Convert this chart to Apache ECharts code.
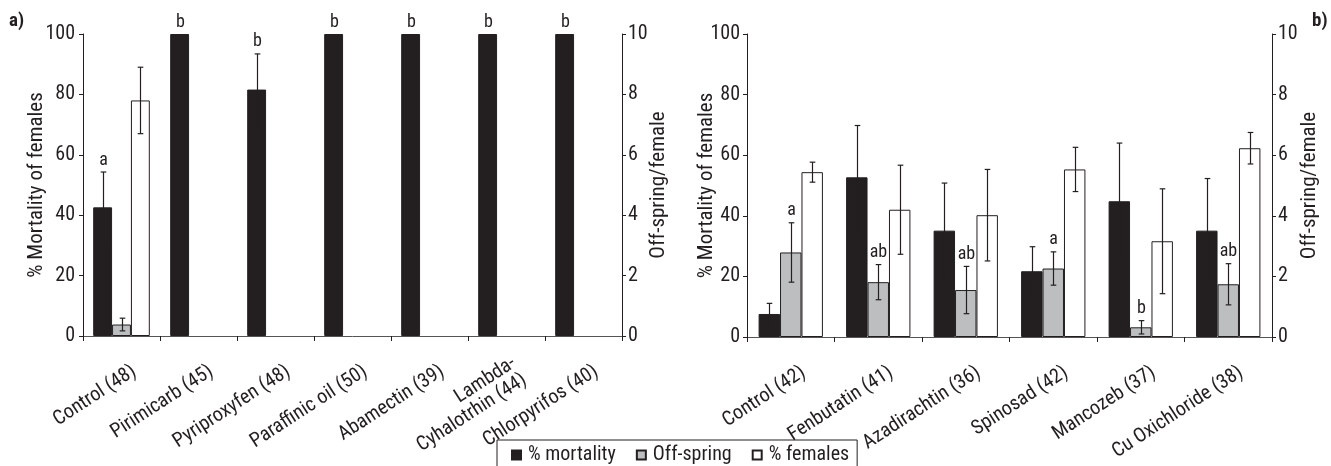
<!DOCTYPE html>
<html>
<head>
<meta charset="utf-8">
<script src="https://cdn.jsdelivr.net/npm/echarts@6/dist/echarts.min.js"></script>
<style>
html,body{margin:0;padding:0;background:#fff;}
#chart{width:1331px;height:466px;}
</style>
</head>
<body>
<div id="chart"></div>
<script>
// ---- Panel a) ----
const categoriesA = ['Control (48)', 'Pirimicarb (45)', 'Pyriproxyfen (48)', 'Paraffinic oil (50)', 'Abamectin (39)', 'Lambda-\nCyhalotrhin (44)', 'Chlorpyrifos (40)'];
const mortalityA = [42.6, 100, 81.6, 100, 100, 100, 100];
const mortalityErrA = [11.7, 0, 11.8, 0, 0, 0, 0];
const mortalityLettersA = ['a', 'b', 'b', 'b', 'b', 'b', 'b'];
const offspringA = [0.38, null, null, null, null, null, null];
const offspringErrA = [0.21, null, null, null, null, null, null];
const femalesA = [78.0, null, null, null, null, null, null];
const femalesErrA = [11.0, null, null, null, null, null, null];

// ---- Panel b) ----
const categoriesB = ['Control (42)', 'Fenbutatin (41)', 'Azadirachtin (36)', 'Spinosad (42)', 'Mancozeb (37)', 'Cu Oxichloride (38)'];
const mortalityB = [7.6, 52.7, 35.1, 21.7, 44.8, 35.1];
const mortalityErrB = [3.5, 17.1, 15.7, 8.1, 19.2, 17.2];
const offspringB = [2.79, 1.81, 1.55, 2.26, 0.32, 1.74];
const offspringErrB = [0.98, 0.58, 0.78, 0.55, 0.22, 0.68];
const offspringLettersB = ['a', 'ab', 'ab', 'a', 'b', 'ab'];
const femalesB = [54.4, 42.0, 40.2, 55.3, 31.6, 62.3];
const femalesErrB = [3.3, 14.7, 15.1, 7.3, 17.3, 5.2];

// ---- Axis ticks ----
const pctTicks = {min: 0, max: 100, interval: 20};
const offTicks = {min: 0, max: 10, interval: 2};

const seriesNames = ['% mortality', 'Off-spring', '% females'];

const FONT = "'Roboto Condensed', 'DejaVu Sans Condensed', sans-serif";
const INK = '#231f20';
const BAR_RATIO = 0.245;
const LABEL_ANGLE = 33;

function errSeries(xIdx, yIdx, slot, values, errs, letters) {
  const data = values.map((v, i) => [i, v == null ? NaN : v, errs[i] == null ? 0 : errs[i]]);
  return {
    type: 'custom',
    xAxisIndex: xIdx,
    yAxisIndex: yIdx,
    z: 10,
    silent: true,
    clip: false,
    data: data,
    renderItem: function (params, api) {
      const i = api.value(0);
      const v = api.value(1);
      const e = api.value(2);
      if (isNaN(v)) return null;
      const bw = api.size([1, 0])[0] * BAR_RATIO;
      const off = (slot - 1) * bw;
      const top = api.coord([i, v + e]);
      const bot = api.coord([i, Math.max(v - e, 0)]);
      const cx = Math.round(top[0] + off) + 0.5;
      const children = [];
      const st = {stroke: INK, lineWidth: 1.2};
      if (e > 0) {
        children.push({type: 'line', shape: {x1: cx, y1: top[1], x2: cx, y2: bot[1]}, style: st});
        children.push({type: 'line', shape: {x1: cx - 2.8, y1: top[1], x2: cx + 2.8, y2: top[1]}, style: st});
        children.push({type: 'line', shape: {x1: cx - 2.8, y1: bot[1], x2: cx + 2.8, y2: bot[1]}, style: st});
      }
      if (letters && letters[i]) {
        children.push({
          type: 'text',
          style: {
            text: letters[i], x: cx, y: top[1] - 3,
            align: 'center', verticalAlign: 'bottom',
            font: '18px ' + FONT, fill: INK
          }
        });
      }
      return {type: 'group', children: children};
    }
  };
}

// Rotated category labels, anchored (right-middle of the text block) just below each category centre
function labelSeries(xIdx, yIdx, cats) {
  return {
    type: 'custom',
    xAxisIndex: xIdx,
    yAxisIndex: yIdx,
    z: 10,
    silent: true,
    clip: false,
    data: cats.map((c, i) => [i, 0]),
    renderItem: function (params, api) {
      const i = api.value(0);
      const p = api.coord([i, 0]);
      return {
        type: 'text',
        x: p[0] + 13,
        y: p[1] + 34,
        rotation: LABEL_ANGLE * Math.PI / 180,
        style: {
          text: cats[i], x: 0, y: 0,
          align: 'right', verticalAlign: 'middle',
          font: '20px ' + FONT, lineHeight: 20, fill: INK
        }
      };
    }
  };
}

function barSeries(name, xIdx, yIdx, data, fill) {
  return {
    name: name,
    type: 'bar',
    xAxisIndex: xIdx,
    yAxisIndex: yIdx,
    data: data,
    barWidth: (BAR_RATIO * 100) + '%',
    barGap: '0%',
    itemStyle: {color: fill, borderColor: INK, borderWidth: 1},
    emphasis: {disabled: true}
  };
}

function yAxisCfg(grid, pos, ticks, name, gap, margin) {
  return Object.assign({
    type: 'value',
    gridIndex: grid,
    position: pos,
    name: name,
    nameLocation: 'middle',
    nameRotate: 90,
    nameGap: gap,
    nameMoveOverlap: false,
    nameTextStyle: {fontFamily: FONT, fontSize: 21, color: INK},
    axisLine: {show: true, lineStyle: {color: INK, width: 1}},
    axisTick: {show: true, length: 4, lineStyle: {color: INK}},
    axisLabel: {fontFamily: FONT, fontSize: 20, color: INK, margin: margin},
    splitLine: {show: false}
  }, ticks);
}

function xAxisCfg(grid, cats) {
  return {
    type: 'category',
    gridIndex: grid,
    data: cats,
    axisLine: {show: true, lineStyle: {color: '#555', width: 1}},
    axisTick: {show: true, length: 5, interval: 0, lineStyle: {color: INK}},
    axisLabel: {show: false}
  };
}

const chart = echarts.init(document.getElementById('chart'), null, {renderer: 'canvas'});
chart.setOption({
  animation: false,
  backgroundColor: '#fff',
  textStyle: {fontFamily: FONT},
  grid: [
    {left: 83, right: 709, top: 34, bottom: 130, containLabel: false},
    {left: 747, right: 59, top: 34, bottom: 129, containLabel: false}
  ],
  xAxis: [xAxisCfg(0, categoriesA), xAxisCfg(1, categoriesB)],
  yAxis: [
    yAxisCfg(0, 'left', pctTicks, '% Mortality of females', 36, 8),
    yAxisCfg(0, 'right', offTicks, 'Off-spring/female', 26, 6),
    yAxisCfg(1, 'left', pctTicks, '% Mortality of females', 30, 7),
    yAxisCfg(1, 'right', offTicks, 'Off-spring/female', 27, 6)
  ],
  legend: {
    data: seriesNames,
    left: 497,
    top: 440,
    orient: 'horizontal',
    borderColor: INK,
    borderWidth: 1,
    borderRadius: 0,
    padding: [5, 8, 10, 14],
    itemWidth: 9,
    itemHeight: 9,
    itemGap: 20,
    icon: 'rect',
    textStyle: {fontFamily: FONT, fontSize: 20, color: INK, padding: [0, 0, 0, 2]},
    selectedMode: false
  },
  graphic: [
    {type: 'text', left: 9, top: 12, style: {text: 'a)', font: 'bold 19px ' + FONT, fill: INK}},
    {type: 'text', left: 1312, top: 12, style: {text: 'b)', font: 'bold 19px ' + FONT, fill: INK}}
  ],
  series: [
    barSeries(seriesNames[0], 0, 0, mortalityA, INK),
    barSeries(seriesNames[1], 0, 1, offspringA, '#bcbec0'),
    barSeries(seriesNames[2], 0, 0, femalesA, '#ffffff'),
    errSeries(0, 0, 0, mortalityA, mortalityErrA, mortalityLettersA),
    errSeries(0, 1, 1, offspringA, offspringErrA, null),
    errSeries(0, 0, 2, femalesA, femalesErrA, null),
    labelSeries(0, 0, categoriesA),

    barSeries(seriesNames[0], 1, 2, mortalityB, INK),
    barSeries(seriesNames[1], 1, 3, offspringB, '#bcbec0'),
    barSeries(seriesNames[2], 1, 2, femalesB, '#ffffff'),
    errSeries(1, 2, 0, mortalityB, mortalityErrB, null),
    errSeries(1, 3, 1, offspringB, offspringErrB, offspringLettersB),
    errSeries(1, 2, 2, femalesB, femalesErrB, null),
    labelSeries(1, 2, categoriesB)
  ]
});
</script>
</body>
</html>
